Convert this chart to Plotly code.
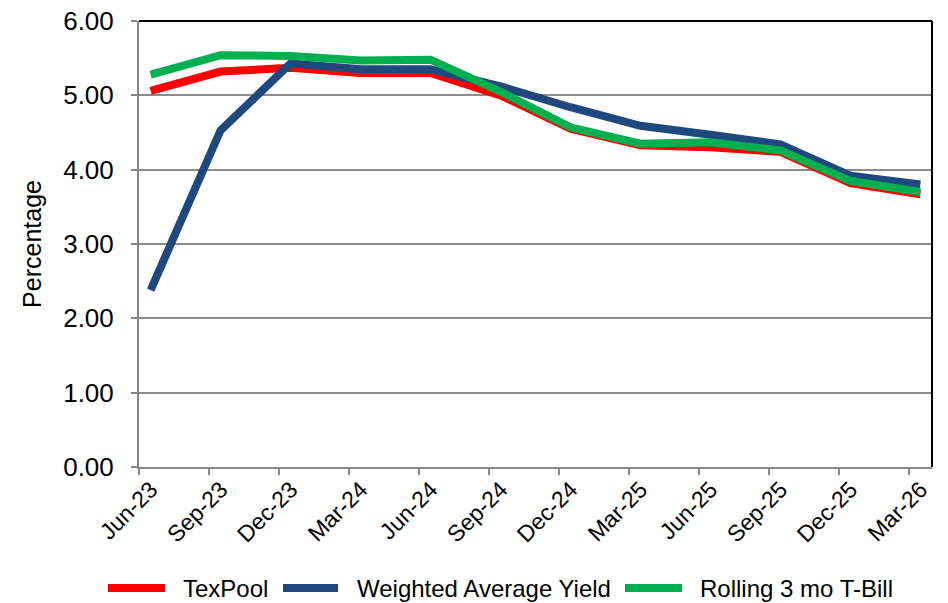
import plotly.graph_objects as go

# Quarter-end observations (percent)
quarters = ["Jun-23", "Sep-23", "Dec-23", "Mar-24", "Jun-24", "Sep-24",
            "Dec-24", "Mar-25", "Jun-25", "Sep-25", "Dec-25", "Mar-26"]
texpool = [5.06, 5.32, 5.37, 5.30, 5.30, 5.00, 4.55, 4.33, 4.30, 4.24, 3.82, 3.67]
weighted_avg_yield = [2.38, 4.53, 5.43, 5.35, 5.35, 5.12, 4.84, 4.59, 4.47, 4.34, 3.92, 3.80]
tbill_3mo = [5.28, 5.54, 5.53, 5.47, 5.48, 5.05, 4.57, 4.35, 4.37, 4.26, 3.85, 3.70]
y_ticks = [0, 1, 2, 3, 4, 5, 6]

series = [
    ("TexPool", texpool, "#FF0000"),
    ("Weighted Average Yield", weighted_avg_yield, "#1F497D"),
    ("Rolling 3 mo T-Bill", tbill_3mo, "#00B050"),
]

# Month-based axis: each quarter tick sits at the start of its month,
# and the value is plotted in the middle of that month.
tick_pos = [3 * i for i in range(len(quarters))]
x_pos = [t + 0.5 for t in tick_pos]

FONT = "Liberation Sans, Arial, sans-serif"
fig = go.Figure()
for name, vals, color in series:
    fig.add_trace(go.Scatter(
        x=x_pos, y=vals, mode="lines", name=name,
        line=dict(color=color, width=8), showlegend=False,
    ))

W, H = 948, 603
L, R, T, B = 139, 16, 21, 136
pw, ph = W - L - R, H - T - B

def px_x(p):
    return (p - L) / pw

def px_y(p):
    return (H - B - p) / ph

shapes = [
    # black frame on top and right of the plot area
    dict(type="line", xref="paper", yref="paper", x0=0, x1=1, y0=1, y1=1,
         line=dict(color="black", width=2)),
    dict(type="line", xref="paper", yref="paper", x0=1, x1=1, y0=0, y1=1,
         line=dict(color="black", width=2)),
]
annotations = []
# legend row below the axis
legend_items = [(108, 165, 181), (283, 338, 355), (625, 682, 698)]
ly = px_y(588)
for (x0, x1, tx), (name, _, color) in zip(legend_items, series):
    shapes.append(dict(type="line", xref="paper", yref="paper",
                       x0=px_x(x0), x1=px_x(x1), y0=ly, y1=ly,
                       line=dict(color=color, width=8)))
    annotations.append(dict(xref="paper", yref="paper", x=px_x(tx), y=ly,
                            xanchor="left", yanchor="middle", text=name,
                            showarrow=False,
                            font=dict(family=FONT, size=24, color="black")))

fig.update_layout(
    width=W, height=H,
    margin=dict(l=L, r=R, t=T, b=B, autoexpand=False),
    paper_bgcolor="white", plot_bgcolor="white",
    font=dict(family=FONT, size=24, color="black"),
    shapes=shapes, annotations=annotations,
    showlegend=False,
)
fig.update_xaxes(
    range=[0, 34], tickmode="array", tickvals=tick_pos, ticktext=quarters,
    tickangle=-45, ticks="outside", ticklen=6, tickwidth=2, tickcolor="#878787",
    showline=True, linecolor="#878787", linewidth=2, showgrid=False,
    zeroline=False, tickfont=dict(family=FONT, size=23, color="black"),
    ticklabelshift=12, ticklabelstandoff=-8,
)
fig.update_yaxes(
    range=[0, 6], tickmode="array", tickvals=y_ticks,
    ticktext=[f"{v:.2f}" for v in y_ticks],
    ticks="outside", ticklen=6, tickwidth=2, tickcolor="#878787",
    showline=True, linecolor="#878787", linewidth=2,
    showgrid=True, gridcolor="#8C8C8C", gridwidth=1.5, zeroline=False,
    tickfont=dict(family=FONT, size=26, color="black"),
    ticklabelstandoff=12,
    title=dict(text="Percentage", standoff=14,
               font=dict(family=FONT, size=25, color="black")),
)

fig.write_html("out.html")
